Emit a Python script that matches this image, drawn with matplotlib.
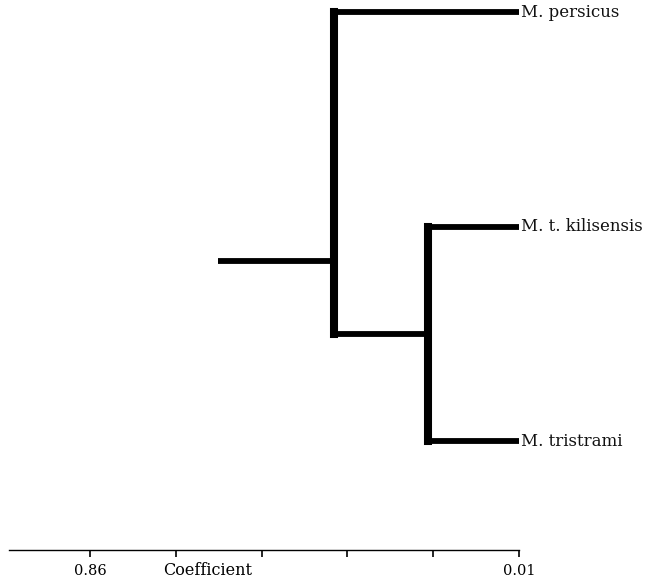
import matplotlib
matplotlib.use("Agg")
import matplotlib.pyplot as plt

# Taxa, top to bottom, and the coefficient at which each joins the tree
taxa = ["M. persicus", "M. t. kilisensis", "M. tristrami"]
leaf_height = 0.01
inner_height = 0.19      # M. t. kilisensis + M. tristrami
root_height = 0.377      # M. persicus + (inner)
root_stub = 0.606

tick_values = [0.86, 0.69, 0.52, 0.35, 0.18, 0.01]
tick_labels = ["0.86", "", "", "", "", "0.01"]

W, H = 649, 585
fig = plt.figure(figsize=(W / 100, H / 100), dpi=100)
ax = fig.add_axes([9 / W, 1 - 550 / H, 510 / W, 550 / H])

lw_h, lw_v = 4.2, 5.8
leaf_y = list(range(len(taxa)))
inner_y = (leaf_y[1] + leaf_y[2]) / 2
root_y = 1.16

# inner clade
ax.plot([inner_height, inner_height], [leaf_y[1], leaf_y[2]], color="black", lw=lw_v,
        solid_capstyle="projecting")
for y in leaf_y[1:]:
    ax.plot([inner_height, leaf_height], [y, y], color="black", lw=lw_h, solid_capstyle="butt")

# root clade
ax.plot([root_height, root_height], [leaf_y[0], inner_y], color="black", lw=lw_v,
        solid_capstyle="projecting")
ax.plot([root_height, leaf_height], [leaf_y[0], leaf_y[0]], color="black", lw=lw_h,
        solid_capstyle="butt")
ax.plot([root_height, inner_height], [inner_y, inner_y], color="black", lw=lw_h,
        solid_capstyle="butt")
ax.plot([root_stub, root_height], [root_y, root_y], color="black", lw=lw_h,
        solid_capstyle="butt")

for name, y in zip(taxa, leaf_y):
    ax.text(leaf_height - 0.004, y, name, ha="left", va="center", fontsize=12,
            family="DejaVu Serif", color="#111111", clip_on=False)

ax.set_xlim(1.0205, 0.01)
ax.set_ylim(2.508, -0.056)

for s in ["top", "right", "left"]:
    ax.spines[s].set_visible(False)
ax.spines["bottom"].set_linewidth(1.0)
ax.set_yticks([])
ax.set_xticks(tick_values)
ax.set_xticklabels(tick_labels, family="DejaVu Serif", fontsize=10.5)
ax.tick_params(axis="x", length=5, width=1.2, pad=5)
ax.text((208 - 9) / 510, -0.022, "Coefficient", transform=ax.transAxes, ha="center",
        va="top", family="DejaVu Serif", fontsize=11.5)

fig.savefig("out.png", dpi=100)
